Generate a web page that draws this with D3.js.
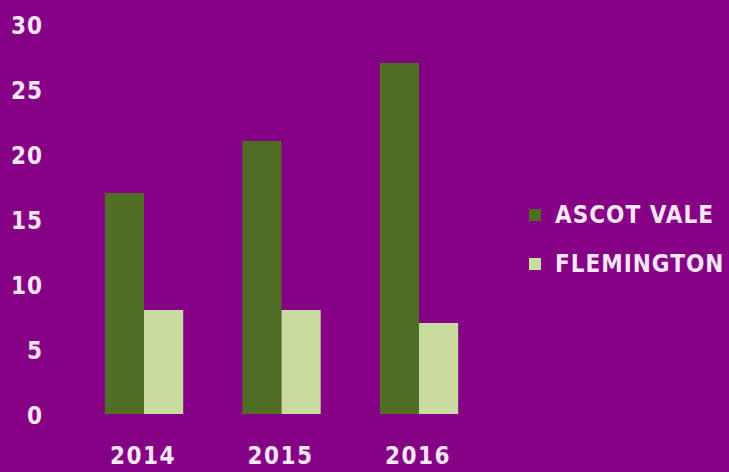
<!DOCTYPE html>
<html lang="en">
<head>
	<meta charset="UTF-8"/>
	<title>Ascot Vale vs Flemington</title>
	<script src="https://d3js.org/d3.v7.min.js"></script>
	<style>
		body { margin: 0; background: #850085; }
		text { font-family: "DejaVu Sans Condensed", "DejaVu Sans", sans-serif; font-weight: bold; fill: #fbe6fb; }
	</style>
</head>
<body>
	<script>
		//Data
		var years = ["2014", "2015", "2016"];
		var seriesNames = ["ASCOT VALE", "FLEMINGTON"];
		var ascotVale = [17, 21, 27];
		var flemington = [8, 8, 7];
		var yTicks = [0, 5, 10, 15, 20, 25, 30];
		var colours = ["#4f6d24", "#c9dca0"];

		var w = 729;
		var h = 472;

		var svg = d3.select("body")
					.append("svg")
					.attr("width", w)
					.attr("height", h);

		svg.append("rect")
			.attr("width", w)
			.attr("height", h)
			.attr("fill", "#850085");

		//Scales
		var xScale = d3.scaleBand()
						.domain(years)
						.range([75.25, 487.75])
						.paddingInner(0.43)
						.paddingOuter(0.215);

		var xInner = d3.scaleBand()
						.domain(seriesNames)
						.range([0, xScale.bandwidth()]);

		var yScale = d3.scaleLinear()
						.domain([0, 30])
						.range([414, 24]);

		var table = years.map(function(y, i) {
			return { year: y, values: [ascotVale[i], flemington[i]] };
		});

		//Bars
		var groups = svg.selectAll("g.year")
			.data(table)
			.enter()
			.append("g")
			.attr("class", "year")
			.attr("transform", function(d) { return "translate(" + xScale(d.year) + ",0)"; });

		groups.selectAll("rect")
			.data(function(d) { return d.values; })
			.enter()
			.append("rect")
			.attr("x", function(d, i) { return xInner(seriesNames[i]); })
			.attr("y", function(d) { return yScale(d); })
			.attr("width", xInner.bandwidth())
			.attr("height", function(d) { return yScale(0) - yScale(d); })
			.attr("fill", function(d, i) { return colours[i]; });

		//Axes, drawn without lines
		var yAxis = d3.axisLeft(yScale).tickValues(yTicks).tickSize(0).tickPadding(0);
		var gy = svg.append("g")
			.attr("transform", "translate(43,2)")
			.call(yAxis);
		gy.select(".domain").remove();
		gy.selectAll("text")
			.style("font-size", "24px")
			.style("letter-spacing", "1px")
			.attr("fill", "#fbe6fb");

		var xAxis = d3.axisBottom(xScale).tickSize(0).tickPadding(0);
		var gx = svg.append("g")
			.attr("transform", "translate(-1,447)")
			.call(xAxis);
		gx.select(".domain").remove();
		gx.selectAll("text")
			.style("font-size", "24px")
			.style("letter-spacing", "1.5px")
			.attr("fill", "#fbe6fb");

		//Legend
		var legend = svg.selectAll("g.legend")
			.data(seriesNames)
			.enter()
			.append("g")
			.attr("class", "legend")
			.attr("transform", function(d, i) { return "translate(529," + (209 + i * 49) + ")"; });

		legend.append("rect")
			.attr("width", 12)
			.attr("height", 12)
			.attr("fill", function(d, i) { return colours[i]; });

		legend.append("text")
			.attr("x", 26)
			.attr("y", 14)
			.style("font-size", "24px")
			.style("letter-spacing", "1px")
			.text(function(d) { return d; });
	</script>
</body>
</html>
